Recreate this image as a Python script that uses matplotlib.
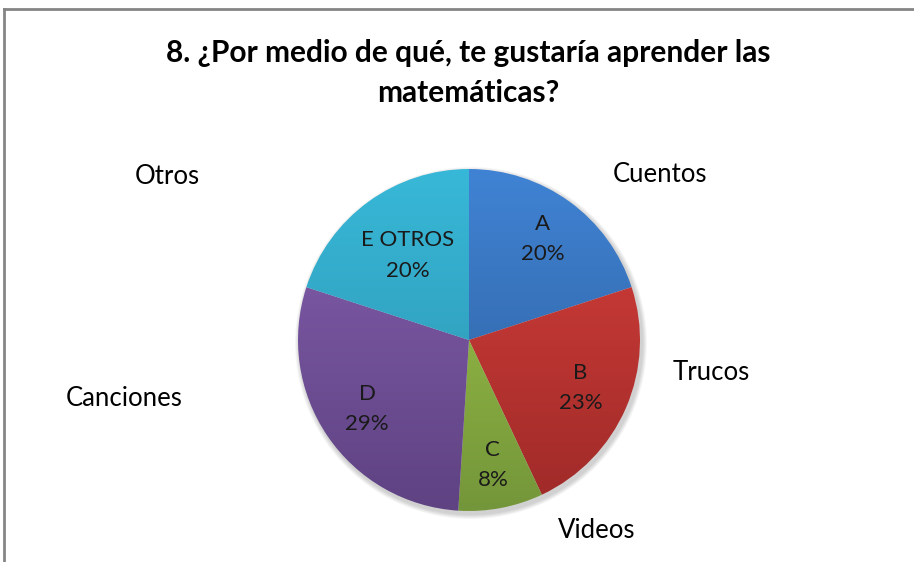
import numpy as np
import matplotlib.pyplot as plt
from matplotlib.colors import LinearSegmentedColormap

plt.rcParams['font.family'] = ['Lato', 'DejaVu Sans']

# Data
letters = ['A', 'B', 'C', 'D', 'E OTROS']
shares = [20, 23, 8, 29, 20]
names = ['Cuentos', 'Trucos', 'Videos', 'Canciones', 'Otros']
title = '8. ¿Por medio de qué, te gustaría aprender las\nmatemáticas?'

top_colors = ['#4083d4', '#d8403c', '#a2c84a', '#8660b0', '#38b8d8']
bottom_colors = ['#2c5c98', '#9e2a28', '#74963a', '#5e4282', '#2c90ac']
label_dist = [0.73, 0.71, 0.745, 0.72, 0.61]

W, H = 914, 562
cx, cy, r = 469, H - 340, 171

fig = plt.figure(figsize=(W / 100, H / 100), dpi=100)
ax = fig.add_axes([0, 0, 1, 1])

wedges, _ = ax.pie(shares, startangle=90, counterclock=False,
                   center=(cx, cy), radius=r,
                   wedgeprops=dict(linewidth=0))

# vertical gradient inside each slice
grad = np.linspace(0, 1, 256).reshape(-1, 1)
for w, c1, c2 in zip(wedges, top_colors, bottom_colors):
    w.set_facecolor('none')
    cmap = LinearSegmentedColormap.from_list('g', [c2, c1])
    im = ax.imshow(grad, cmap=cmap, origin='lower', aspect='auto',
                   extent=(cx - r, cx + r, cy - r, cy + r), zorder=1)
    im.set_clip_path(w)

# soft shadow under the pie
for k in range(6):
    sh = plt.Circle((cx + 2, cy - 3), r + 1 + k * 0.8, color='black',
                    alpha=0.03, zorder=0, lw=0)
    ax.add_patch(sh)

# inner labels
angles = 90 - 3.6 * (np.cumsum(shares) - np.array(shares) / 2)
for lab, s, a, d in zip(letters, shares, angles, label_dist):
    x = cx + d * r * np.cos(np.radians(a))
    y = cy + d * r * np.sin(np.radians(a))
    ax.text(x, y, f'{lab}\n{s}%', ha='center', va='center', fontsize=16,
            color='#1a1a1a', linespacing=1.65, zorder=3)

# outer category labels
outer_pos = [(660, 174), (711, 373), (597, 531), (124, 398), (167, 177)]
for name, (px, py) in zip(names, outer_pos):
    ax.text(px, H - py, name, ha='center', va='center', fontsize=18.5,
            color='black')

ax.text(468, H - 73, title, ha='center', va='center',
        fontsize=21.5, fontweight='bold', linespacing=1.5)

# chart frame (top and left edges visible)
ax.plot([4, W], [H - 9, H - 9], color='#858585', lw=2, zorder=4)
ax.plot([4, 4], [0, H - 9], color='#858585', lw=2, zorder=4)

ax.set_xlim(0, W)
ax.set_ylim(0, H)
ax.set_aspect('auto')
ax.axis('off')

fig.savefig('out.png', dpi=100)
